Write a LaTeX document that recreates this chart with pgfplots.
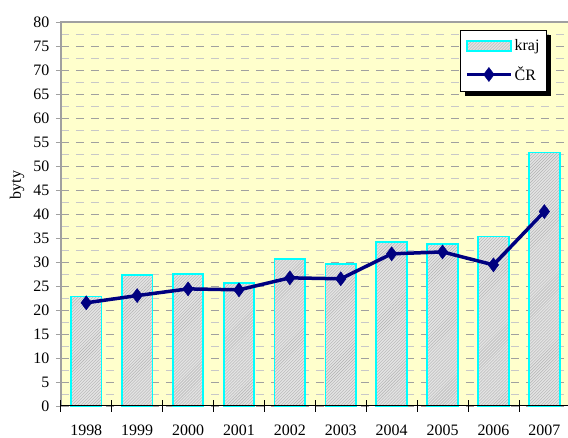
\documentclass[border=0pt]{standalone}
\usepackage{pgfplots}
\pgfplotsset{compat=1.18}
\usepackage{fontspec}
\setmainfont{Liberation Serif}
\usetikzlibrary{patterns,shadows}
\definecolor{bgyellow}{RGB}{255,255,204}
\definecolor{navyline}{RGB}{0,0,128}
\definecolor{barcyan}{RGB}{0,255,255}
\definecolor{gridmaj}{RGB}{160,160,160}
\definecolor{gridmin}{RGB}{200,200,200}
\makeatletter
\tikzset{nopreactions/.code={\let\tikz@preactions\pgfutil@empty}}
\makeatother
\pgfplotsset{
  barlegend/.style={legend image code/.code={\draw[nopreactions,##1] (0bp,-5bp) rectangle (44bp,5bp);}},
  linelegend/.style={legend image code/.code={\draw[nopreactions,mark repeat=2,mark phase=2,##1] plot coordinates {(0bp,0bp)(22bp,0bp)(44bp,0bp)};}},
}
\begin{document}
\begin{tikzpicture}
\useasboundingbox (0,0) rectangle (568bp,438bp);
\begin{axis}[
  at={(60.8bp,32bp)}, anchor=south west,
  scale only axis, width=509bp, height=384bp,
  xmin=-0.5, xmax=9.5, ymin=0, ymax=80,
  font=\fontsize{16}{19}\selectfont,
  /pgf/number format/assume math mode=true,
  axis background/.style={fill=bgyellow},
  axis line style={draw=none},
  ytick={0,5,...,80},
  ytick pos=left, ytick style={gridmaj, line width=0.8bp},
  tick align=outside,
  major tick length=5bp,
  minor y tick num=1, minor tick length=0pt,
  ymajorgrids, yminorgrids,
  major grid style={gridmaj, dash pattern=on 8bp off 7bp, line width=0.8bp},
  minor grid style={gridmin, dash pattern=on 8bp off 7bp, line width=0.8bp},
  xtick={0,1,...,9},
  xticklabels={1998,1999,2000,2001,2002,2003,2004,2005,2006,2007},
  xtick pos=bottom,
  xtick style={draw=none},
  xticklabel style={yshift=-10bp},
  yticklabel style={xshift=-3bp},
  ylabel={byty},
  ylabel style={at={(axis description cs:-0.086,0.575)}, anchor=center},
  legend style={at={(0.784,0.979)}, anchor=north west, draw=black, fill=white,
    line width=0.6bp, inner xsep=5bp, inner ysep=7bp, row sep=11bp,
    drop shadow={shadow xshift=5bp, shadow yshift=-5bp, fill=black, opacity=1},
    font=\fontsize{16}{19}\selectfont, cells={anchor=west}},
  legend cell align=left,
  clip=false,
]
\addplot[ybar, bar width=0.6, draw=barcyan, line width=1.8bp, fill=gray!22,
  postaction={pattern=north east lines, pattern color=gray!60}, barlegend]
  coordinates {(0,22.8) (1,27.3) (2,27.5) (3,25.6) (4,30.6) (5,29.6) (6,34.1) (7,33.8) (8,35.3) (9,52.8)};
\addlegendentry{kraj}
\addplot[navyline, line width=3.5bp, mark=diamond*, mark size=7bp,
  mark options={fill=navyline, line width=0.5bp}, linelegend]
  coordinates {(0,21.5) (1,23.0) (2,24.4) (3,24.2) (4,26.7) (5,26.5) (6,31.7) (7,32.1) (8,29.4) (9,40.5)};
\addlegendentry{ČR}
\draw[gridmaj, line width=2bp] (rel axis cs:0,0) -- (rel axis cs:0,1) -- (rel axis cs:1,1);
\draw[black, line width=1bp] (rel axis cs:0,0) -- (rel axis cs:1,0);
\pgfplotsinvokeforeach{-0.5,0.5,1.5,2.5,3.5,4.5,5.5,6.5,7.5,8.5,9.5}{
  \draw[black, line width=0.8bp] ([yshift=5.5bp]axis cs:#1,0) -- ([yshift=-5.5bp]axis cs:#1,0);
}
\end{axis}
\end{tikzpicture}
\end{document}
